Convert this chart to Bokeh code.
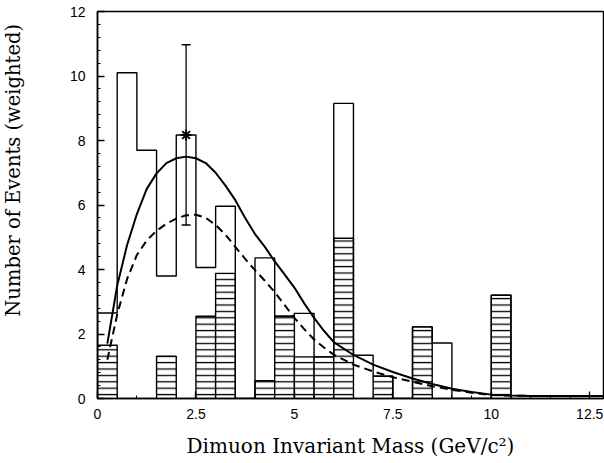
import math
from bokeh.plotting import figure
from bokeh.layouts import row
from bokeh.models import Range1d, FixedTicker
from bokeh.core.properties import value
from bokeh.embed import file_html
from bokeh.resources import INLINE

# ---- data ----
bin_left = [0.0, 0.5, 1.0, 1.5, 2.0, 2.5, 3.0, 3.5, 4.0, 4.5, 5.0, 5.5, 6.0, 6.5,
            7.0, 7.5, 8.0, 8.5, 9.0, 9.5, 10.0]
bin_width = 0.5
total_events = [2.65, 10.1, 7.7, 3.8, 8.17, 4.06, 5.96, 0.0, 4.36, 2.55, 2.64, 1.29,
                9.15, 1.34, 0.69, 0.0, 2.22, 1.72, 0.0, 0.0, 3.2]
hatched_events = [1.65, 0.0, 0.0, 1.31, 0.0, 2.55, 3.88, 0.0, 0.55, 2.55, 1.29, 1.29,
                  4.97, 0.0, 0.69, 0.0, 2.22, 0.0, 0.0, 0.0, 3.2]

curve_x = [0.25, 0.5, 0.75, 1.0, 1.25, 1.5, 1.75, 2.0, 2.25, 2.5, 2.75, 3.0, 3.25,
           3.5, 3.75, 4.0, 4.25, 4.5, 4.75, 5.0, 5.25, 5.5, 5.75, 6.0, 6.5, 7.0,
           7.5, 8.0, 8.5, 9.0, 9.5, 10.0, 10.5, 11.0, 12.0, 12.85]
solid_y = [1.7, 3.5, 4.75, 5.72, 6.5, 6.98, 7.3, 7.45, 7.5, 7.45, 7.3, 7.0, 6.6,
           6.15, 5.6, 5.1, 4.7, 4.25, 3.85, 3.44, 2.95, 2.5, 2.1, 1.75, 1.35, 1.05,
           0.82, 0.62, 0.45, 0.3, 0.2, 0.12, 0.09, 0.08, 0.08, 0.08]
dashed_y = [1.2, 2.6, 3.7, 4.45, 4.9, 5.2, 5.42, 5.58, 5.68, 5.7, 5.6, 5.38, 5.08,
            4.7, 4.33, 3.98, 3.65, 3.3, 2.9, 2.5, 2.15, 1.83, 1.58, 1.36, 1.05, 0.84,
            0.66, 0.52, 0.38, 0.27, 0.18, 0.11, 0.09, 0.08, 0.08, 0.08]

point_x = [2.25]
point_y = [8.17]
point_lo = [5.38]
point_hi = [10.97]

x_ticks = [0, 2.5, 5, 7.5, 10, 12.5]
y_ticks = [0, 2, 4, 6, 8, 10, 12]
x_title = "Dimuon Invariant Mass (GeV/c\u00b2)"
y_title = "Number of Events (weighted)"

# ---- side strip holding the y title ----
LW, H = 40, 463
side = figure(width=LW, height=H, output_backend="svg", toolbar_location=None,
              x_range=Range1d(0, LW), y_range=Range1d(0, H),
              min_border_left=0, min_border_right=0, min_border_top=0,
              min_border_bottom=0, x_axis_type=None, y_axis_type=None)
side.grid.visible = False
side.outline_line_color = None
side.background_fill_color = "white"
side.border_fill_color = "white"
side.text(x=[12.5], y=[H - 190], text=[y_title], angle=math.pi / 2,
          text_align="center", text_baseline="middle",
          text_font=value("DejaVu Serif"), text_font_size="19.5px",
          text_color="black")

# ---- main figure ----
p = figure(width=604 - LW, height=H, output_backend="svg", toolbar_location=None,
           x_range=Range1d(0, 12.85), y_range=Range1d(0, 12),
           min_border_left=97 - LW, min_border_right=1, min_border_top=11,
           min_border_bottom=65)
p.background_fill_color = "white"
p.border_fill_color = "white"
p.grid.visible = False
p.outline_line_color = "black"
p.outline_line_width = 1.5

# hatched histogram
hl, hr, ht = [], [], []
for l, h in zip(bin_left, hatched_events):
    if h > 0:
        hl.append(l)
        hr.append(l + bin_width)
        ht.append(h)
p.quad(left=hl, right=hr, bottom=0, top=ht, fill_color="white",
       hatch_pattern="-", hatch_color="black", hatch_scale=6.4, hatch_weight=1.3,
       line_color="black", line_width=1.4)

# open (total) histogram as a step outline
sx, sy = [bin_left[0]], [0.0]
for l, t in zip(bin_left, total_events):
    sx += [l, l + bin_width]
    sy += [t, t]
sx.append(bin_left[-1] + bin_width)
sy.append(0.0)
p.line(sx, sy, line_color="black", line_width=1.4)

# curves
p.line(curve_x, solid_y, line_color="black", line_width=2)
p.line(curve_x, dashed_y, line_color="black", line_width=2, line_dash="8 5")

# data point with error bar
p.segment(x0=point_x, y0=point_lo, x1=point_x, y1=point_hi, line_color="black",
          line_width=1.3)
p.scatter(point_x + point_x, point_lo + point_hi, marker="dash", size=9,
          line_color="black", line_width=1.5)
p.scatter(point_x, point_y, marker="asterisk", size=11, line_color="black",
          line_width=2)

# axes
xa = p.xaxis[0]
xa.ticker = FixedTicker(ticks=x_ticks,
                        minor_ticks=[i * 0.5 for i in range(0, 26)])
ya = p.yaxis[0]
ya.ticker = FixedTicker(ticks=y_ticks, minor_ticks=[i * 0.4 for i in range(0, 31)])

for ax in (xa, ya):
    ax.major_tick_in = 7
    ax.major_tick_out = 0
    ax.minor_tick_in = 3
    ax.minor_tick_out = 0
    ax.axis_line_color = "black"
    ax.axis_line_width = 1.5
    ax.major_tick_line_width = 1.3
    ax.minor_tick_line_width = 1.0
    ax.major_label_text_font = "Liberation Sans"
    ax.major_label_text_font_size = "14px"
    ax.major_label_text_color = "black"

xa.major_label_standoff = 10
ya.major_label_standoff = 12

xa.axis_label = x_title
xa.axis_label_text_font = "DejaVu Serif"
xa.axis_label_text_font_size = "20px"
xa.axis_label_text_font_style = "normal"
xa.axis_label_text_color = "black"
xa.axis_label_standoff = 12

layout = row(side, p, spacing=0)
open("out.html", "w").write(file_html(layout, INLINE))
